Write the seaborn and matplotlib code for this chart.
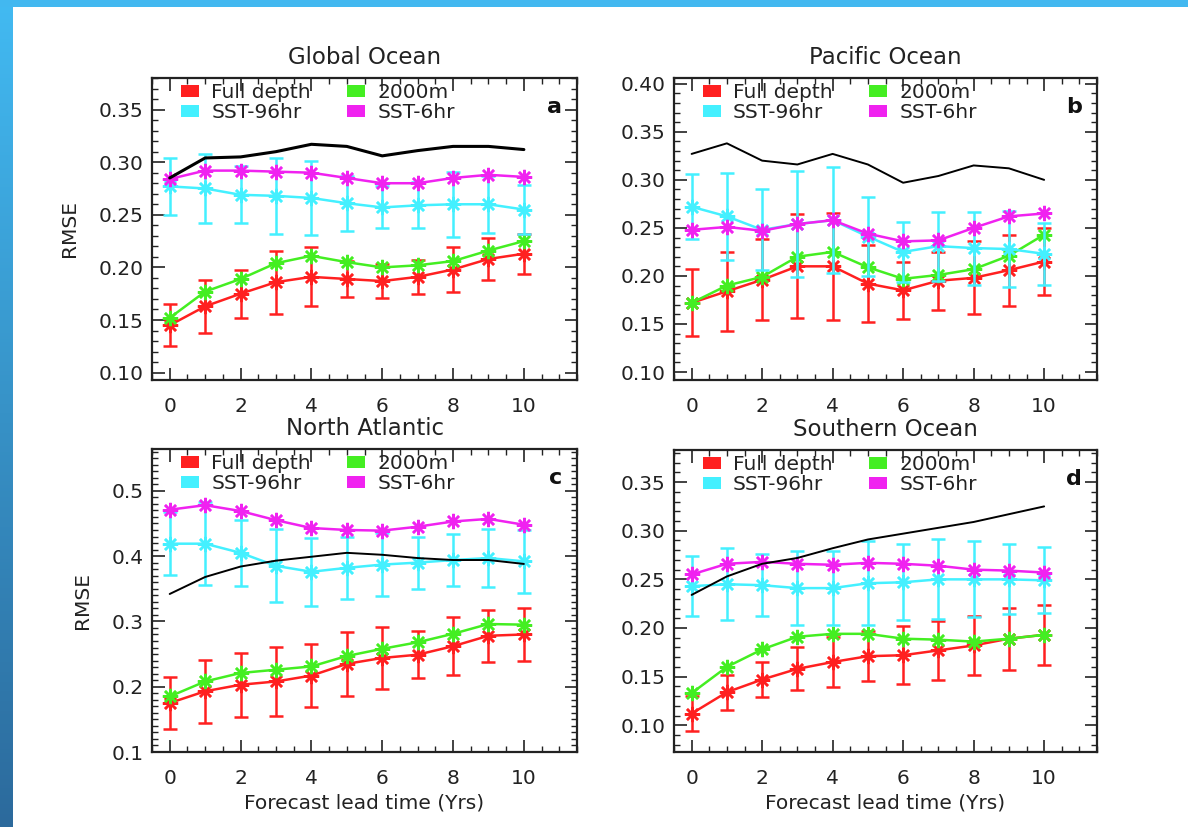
import numpy as np
import pandas as pd
import matplotlib
matplotlib.use("Agg")
import matplotlib.pyplot as plt
import seaborn as sns
from matplotlib.patches import Patch, Rectangle
from matplotlib.ticker import MultipleLocator, FormatStrFormatter
from matplotlib.colors import LinearSegmentedColormap

# ---------------- data ----------------
lead = [0, 1, 2, 3, 4, 5, 6, 7, 8, 9, 10]
series_names = ["Full depth", "2000m", "SST-96hr", "SST-6hr"]
panel_titles = ["Global Ocean", "Pacific Ocean", "North Atlantic", "Southern Ocean"]
panel_letters = ["a", "b", "c", "d"]

# Global Ocean
glob_full = [0.145, 0.163, 0.175, 0.186, 0.191, 0.189, 0.187, 0.191, 0.198, 0.208, 0.213]
glob_full_err = [0.020, 0.025, 0.023, 0.030, 0.028, 0.017, 0.016, 0.016, 0.021, 0.020, 0.019]
glob_2000 = [0.152, 0.177, 0.189, 0.204, 0.211, 0.205, 0.200, 0.202, 0.206, 0.216, 0.225]
glob_sst96 = [0.277, 0.275, 0.269, 0.268, 0.266, 0.261, 0.257, 0.259, 0.260, 0.260, 0.255]
glob_sst96_err = [0.027, 0.033, 0.027, 0.036, 0.035, 0.026, 0.020, 0.022, 0.031, 0.027, 0.023]
glob_sst6 = [0.284, 0.292, 0.292, 0.291, 0.290, 0.285, 0.280, 0.280, 0.285, 0.288, 0.286]
glob_black = [0.285, 0.304, 0.305, 0.310, 0.317, 0.315, 0.306, 0.311, 0.315, 0.315, 0.312]

# Pacific Ocean
pac_full = [0.172, 0.184, 0.196, 0.210, 0.210, 0.192, 0.185, 0.195, 0.198, 0.206, 0.215]
pac_full_err = [0.035, 0.041, 0.042, 0.054, 0.056, 0.040, 0.030, 0.030, 0.038, 0.037, 0.035]
pac_2000 = [0.172, 0.190, 0.199, 0.220, 0.225, 0.209, 0.197, 0.201, 0.207, 0.221, 0.243]
pac_sst96 = [0.272, 0.262, 0.248, 0.254, 0.258, 0.241, 0.225, 0.231, 0.229, 0.228, 0.223]
pac_sst96_err = [0.034, 0.045, 0.042, 0.055, 0.055, 0.041, 0.031, 0.036, 0.038, 0.040, 0.032]
pac_sst6 = [0.248, 0.251, 0.247, 0.254, 0.258, 0.244, 0.236, 0.237, 0.250, 0.262, 0.265]
pac_black = [0.327, 0.338, 0.320, 0.316, 0.327, 0.316, 0.297, 0.304, 0.315, 0.312, 0.300]

# North Atlantic
na_full = [0.175, 0.193, 0.203, 0.208, 0.217, 0.235, 0.244, 0.249, 0.262, 0.278, 0.280]
na_full_err = [0.040, 0.048, 0.049, 0.053, 0.048, 0.049, 0.047, 0.036, 0.044, 0.040, 0.041]
na_2000 = [0.185, 0.208, 0.221, 0.226, 0.231, 0.247, 0.258, 0.268, 0.281, 0.296, 0.295]
na_sst96 = [0.419, 0.419, 0.405, 0.385, 0.376, 0.382, 0.387, 0.390, 0.394, 0.397, 0.392]
na_sst96_err = [0.048, 0.064, 0.051, 0.056, 0.052, 0.047, 0.048, 0.040, 0.040, 0.045, 0.048]
na_sst6 = [0.471, 0.478, 0.469, 0.455, 0.443, 0.440, 0.439, 0.445, 0.453, 0.457, 0.448]
na_black = [0.342, 0.368, 0.384, 0.393, 0.399, 0.405, 0.402, 0.397, 0.394, 0.394, 0.388]

# Southern Ocean
so_full = [0.112, 0.134, 0.147, 0.158, 0.165, 0.171, 0.172, 0.177, 0.182, 0.189, 0.193]
so_full_err = [0.018, 0.018, 0.018, 0.022, 0.026, 0.026, 0.030, 0.030, 0.030, 0.032, 0.031]
so_2000 = [0.133, 0.160, 0.178, 0.191, 0.194, 0.194, 0.189, 0.188, 0.186, 0.189, 0.193]
so_sst96 = [0.243, 0.245, 0.244, 0.241, 0.241, 0.246, 0.247, 0.250, 0.250, 0.250, 0.249]
so_sst96_err = [0.031, 0.037, 0.032, 0.038, 0.038, 0.043, 0.039, 0.041, 0.039, 0.036, 0.034]
so_sst6 = [0.255, 0.266, 0.268, 0.266, 0.265, 0.267, 0.266, 0.264, 0.260, 0.259, 0.257]
so_black = [0.234, 0.253, 0.266, 0.272, 0.282, 0.291, 0.297, 0.303, 0.309, 0.317, 0.325]

panels = [
    (glob_full, glob_full_err, glob_2000, glob_sst96, glob_sst96_err, glob_sst6, glob_black),
    (pac_full, pac_full_err, pac_2000, pac_sst96, pac_sst96_err, pac_sst6, pac_black),
    (na_full, na_full_err, na_2000, na_sst96, na_sst96_err, na_sst6, na_black),
    (so_full, so_full_err, so_2000, so_sst96, so_sst96_err, so_sst6, so_black),
]
ylims = [(0.093, 0.380), (0.0917, 0.406), (0.100, 0.564), (0.0725, 0.383)]
ymajor = [0.05, 0.05, 0.1, 0.05]
yminor = [0.01, 0.01, 0.01, 0.01]
yfmt = ["%.2f", "%.2f", "%.1f", "%.2f"]

colors = {"Full depth": "#ff2020", "2000m": "#44ee22",
          "SST-96hr": "#44f0ff", "SST-6hr": "#f022f0"}

# ---------------- style ----------------
sns.set_style("white")
plt.rcParams["font.family"] = ["DejaVu Sans"]

W, H = 1188, 827
fig = plt.figure(figsize=(W / 100, H / 100), dpi=100)

# slide decoration
fig.patches.append(Rectangle((0, 1 - 7 / H), 1, 7 / H, transform=fig.transFigure,
                             facecolor="#42b8f0", edgecolor="none", zorder=0))
gax = fig.add_axes([0, 0, 12 / W, 1])
grad = np.linspace(0, 1, 256).reshape(-1, 1)
cm = LinearSegmentedColormap.from_list("slide", ["#42baf2", "#2c6a9c"])
gax.imshow(grad, aspect="auto", cmap=cm, extent=[0, 1, 1, 0])
gax.set_axis_off()

pos = [
    (152, 78, 577, 380),
    (674, 78, 1097, 380),
    (152, 449, 577, 752),
    (674, 450, 1097, 752),
]

asterisk = (8, 2, 0)


def draw_line(ax, df, name, z):
    sns.lineplot(data=df[df.series == name], x="lead", y="rmse", ax=ax,
                 color=colors[name], marker=asterisk, markersize=11,
                 markeredgewidth=1.8, markeredgecolor=colors[name],
                 linewidth=1.8, legend=False, zorder=z)


for i, (p, rect) in enumerate(zip(panels, pos)):
    full, full_err, d2000, sst96, sst96_err, sst6, black = p
    l, t, r, b = rect
    ax = fig.add_axes([l / W, 1 - b / H, (r - l) / W, (b - t) / H])

    df = pd.DataFrame({
        "lead": lead * 4,
        "rmse": full + d2000 + sst96 + sst6,
        "series": sum([[n] * len(lead) for n in series_names], []),
    })

    ax.errorbar(lead, full, yerr=full_err, fmt="none", ecolor=colors["Full depth"],
                elinewidth=1.8, capsize=5, capthick=1.8, zorder=2)
    draw_line(ax, df, "Full depth", 3)
    draw_line(ax, df, "2000m", 4)
    ax.errorbar(lead, sst96, yerr=sst96_err, fmt="none", ecolor=colors["SST-96hr"],
                elinewidth=1.8, capsize=5, capthick=1.8, zorder=5)
    draw_line(ax, df, "SST-96hr", 6)
    draw_line(ax, df, "SST-6hr", 7)
    sns.lineplot(x=lead, y=black, ax=ax, color="black",
                 linewidth=2.2 if i == 0 else 1.4, legend=False, zorder=8)

    ax.set_xlim(-0.5, 11.5)
    ax.set_ylim(*ylims[i])
    ax.set_xticks([0, 2, 4, 6, 8, 10])
    ax.set_xticklabels(["0", "2", "4", "6", "8", "10"])
    ax.xaxis.set_minor_locator(MultipleLocator(0.5))
    ax.yaxis.set_major_locator(MultipleLocator(ymajor[i]))
    ax.yaxis.set_minor_locator(MultipleLocator(yminor[i]))
    ax.yaxis.set_major_formatter(FormatStrFormatter(yfmt[i]))
    ax.tick_params(which="both", direction="in", top=True, right=True,
                   bottom=True, left=True,
                   color="#222222", labelcolor="#222222")
    ax.tick_params(which="major", length=9, width=1.2, labelsize=14.5)
    ax.tick_params(which="minor", length=4.5, width=1.0)
    ax.tick_params(axis="x", which="major", pad=12)
    ax.tick_params(axis="y", which="major", pad=6)
    for s in ax.spines.values():
        s.set_linewidth(1.6)
        s.set_color("#222222")

    ax.set_title(panel_titles[i], fontsize=16.5, pad=10, color="#222222")
    ax.set_xlabel("Forecast lead time (Yrs)" if i >= 2 else "", fontsize=14.5,
                  color="#222222", labelpad=4)
    ax.set_ylabel("RMSE" if i % 2 == 0 else "", fontsize=14.5, color="#222222",
                  labelpad=14)
    ax.text(0.965, 0.905, panel_letters[i], transform=ax.transAxes, ha="right",
            va="center", fontsize=16, fontweight="bold", color="#111111")

    handles = [Patch(facecolor=colors[n], edgecolor="none") for n in
               ["Full depth", "SST-96hr", "2000m", "SST-6hr"]]
    ax.legend(handles, ["Full depth", "SST-96hr", "2000m", "SST-6hr"], ncol=2,
              loc="upper left", bbox_to_anchor=(0.035, 1.03), frameon=False,
              fontsize=14.5, handlelength=0.9, handleheight=0.5,
              handletextpad=0.6, labelspacing=0.05, columnspacing=1.8,
              borderpad=0.2, labelcolor="#222222")

fig.savefig("out.png", dpi=100)
